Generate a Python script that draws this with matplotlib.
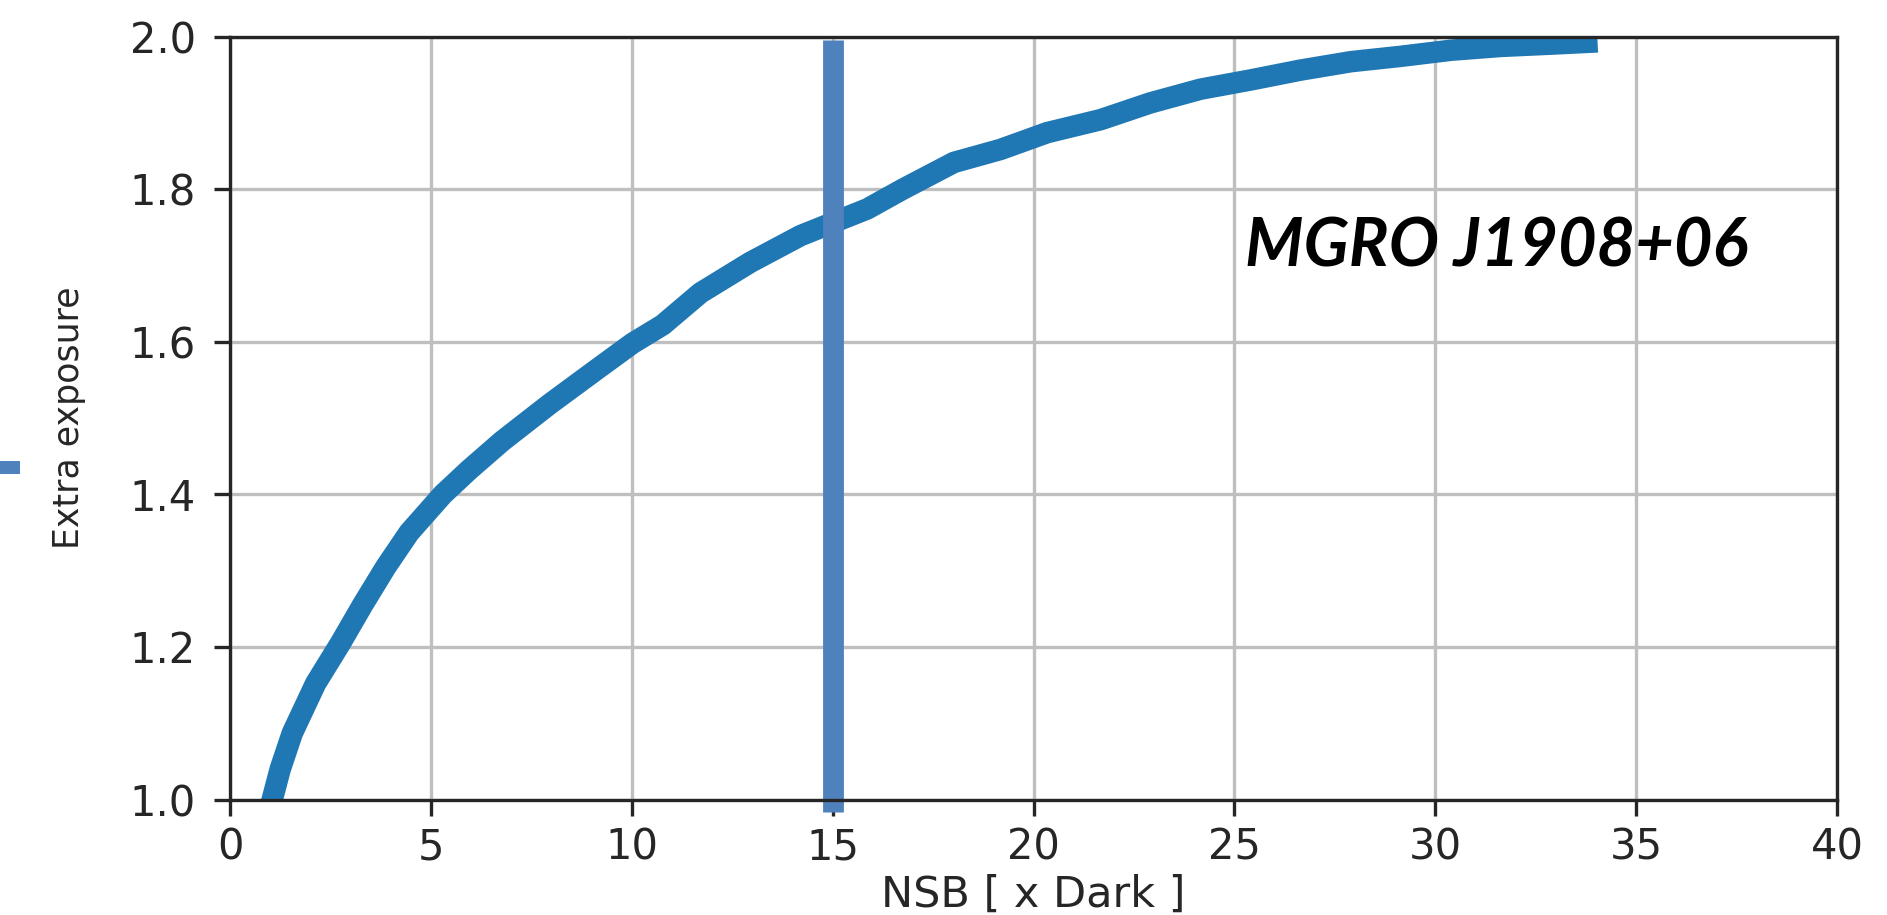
import matplotlib

matplotlib.use("Agg")
import matplotlib.pyplot as plt
from matplotlib.patches import Rectangle

# NSB level (x Dark) vs extra exposure needed
nsb = [0.95, 1.05, 1.25, 1.55, 2.13, 2.75, 3.30, 3.88, 4.46, 5.30, 5.95,
       6.78, 7.95, 9.11, 10.02, 10.77, 11.71, 12.95, 14.20, 15.05, 15.86,
       16.75, 18.02, 19.18, 20.34, 21.67, 22.91, 24.16, 25.40, 26.65, 27.90,
       29.14, 30.39, 31.63, 32.88, 34.04]
extra_exposure = [0.98, 1.00, 1.04, 1.087, 1.152, 1.205, 1.255, 1.305, 1.350,
                  1.400, 1.432, 1.470, 1.518, 1.563, 1.598, 1.622, 1.664, 1.704,
                  1.739, 1.757, 1.774, 1.800, 1.835, 1.852, 1.874, 1.891, 1.913,
                  1.931, 1.943, 1.956, 1.967, 1.974, 1.982, 1.987, 1.990, 1.993]

nsb_cut = 15
source_name = "MGRO J1908+06"
x_ticks = [0, 5, 10, 15, 20, 25, 30, 35, 40]
y_ticks = [1.0, 1.2, 1.4, 1.6, 1.8, 2.0]

DARK = "#262626"
BAR_BLUE = "#4f81bd"

fig = plt.figure(figsize=(18.87, 9.15), dpi=100)
ax = fig.add_axes([0.1219, 0.1262, 0.8516, 0.8339])

ax.grid(True, color="#bfbfbf", linewidth=2.4)
ax.set_axisbelow(True)
ax.plot(nsb, extra_exposure, color="#1f77b4", linewidth=15.5, solid_capstyle="butt")
ax.axvline(nsb_cut, ymin=-0.016, ymax=0.995, color=BAR_BLUE, linewidth=15,
           solid_capstyle="butt", clip_on=False)

ax.set_xlim(0, 40)
ax.set_ylim(1.0, 2.0)
ax.set_xticks(x_ticks)
ax.set_yticks(y_ticks)
ax.set_yticklabels([f"{v:.1f}" for v in y_ticks])

for spine in ax.spines.values():
    spine.set_color(DARK)
    spine.set_linewidth(2.4)

ax.tick_params(axis="both", length=11.5, width=2.4, color=DARK,
               labelcolor=DARK, labelsize=30)
ax.tick_params(axis="x", pad=8)
ax.tick_params(axis="y", pad=13)

ax.set_xlabel("NSB [ x Dark ]", fontsize=31, color=DARK)
ax.xaxis.label.set_va("baseline")
ax.xaxis.set_label_coords(0.5, -0.141)
ax.set_ylabel("Extra exposure", fontsize=25, color=DARK)
ax.yaxis.label.set_va("baseline")
ax.yaxis.set_label_coords(-0.094, 0.5)

ax.text(25.27, 1.698, source_name, fontsize=48, fontweight="bold",
        fontstyle="italic", family=["Lato", "DejaVu Sans"], color="black",
        ha="left", va="baseline")

# small stray marker at the left edge of the slide
fig.patches.append(Rectangle((0, 0.482), 0.0106, 0.0142, transform=fig.transFigure,
                             facecolor=BAR_BLUE, edgecolor="none"))

fig.savefig("out.png", dpi=100)
